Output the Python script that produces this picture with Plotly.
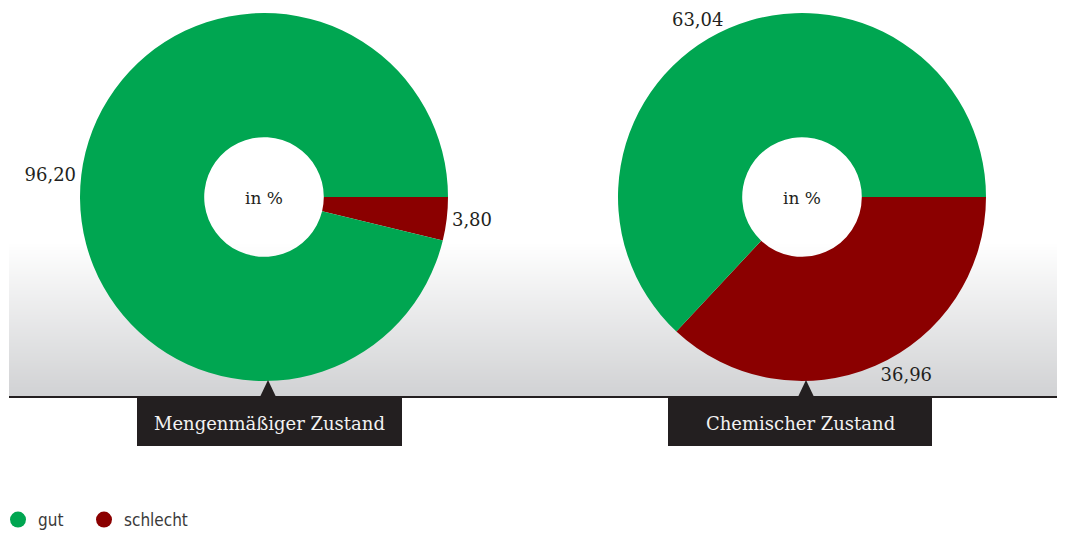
import numpy as np
import plotly.graph_objects as go

# data
categories = ["schlecht", "gut"]
colors = ["#8b0000", "#00a651"]
menge_values = [3.80, 96.20]
chemie_values = [36.96, 63.04]
chart_titles = ["Mengenmäßiger Zustand", "Chemischer Zustand"]
legend_names = ["gut", "schlecht"]
legend_colors = ["#00a651", "#8b0000"]

# page body adds an 8px margin, so the figure is drawn 8px smaller
OFF = 8
W, H = 1065 - OFF, 534 - OFF
SERIF = "'DejaVu Serif', 'Liberation Serif', serif"
NARROW = "'Liberation Sans Narrow', 'DejaVu Sans Condensed', Roboto, sans-serif"


def px_x(v):
    return min(max((v - OFF) / W, 0), 1)


def px_y(v):
    return min(max(1 - (v - OFF) / H, 0), 1)


fig = go.Figure()

# grey gradient band behind the lower half of the pies
grad = np.linspace(0, 1, 60).reshape(-1, 1)
fig.add_trace(go.Heatmap(z=grad, colorscale=[[0, "#d1d2d4"], [1, "#ffffff"]],
                         showscale=False, hoverinfo="skip", zsmooth="best"))

pie_centers = [264, 802]
for cx, vals, name in zip(pie_centers, [menge_values, chemie_values], chart_titles):
    r = 184
    cy = 197
    hw = 255
    fig.add_trace(go.Pie(
        labels=categories, values=vals, sort=False, direction="clockwise",
        rotation=90, hole=0.325,
        marker=dict(colors=colors, line=dict(width=0)),
        textposition="outside", texttemplate="%{value:.2f}",
        textfont=dict(family=SERIF, size=18, color="#231f20"),
        title=dict(text="in %", position="middle center",
                   font=dict(family=SERIF, size=17, color="#231f20")),
        domain=dict(x=[px_x(cx - hw), px_x(cx + hw)], y=[px_y(cy + r), px_y(cy - r)]),
        showlegend=False, hoverinfo="label+value", name=name,
    ))

# legend entries with round markers, one small legend each
for i, (cat, col) in enumerate(zip(legend_names, legend_colors)):
    fig.add_trace(go.Scatter(x=[None], y=[None], mode="markers", name=cat,
                             legend="legend" if i == 0 else "legend2",
                             marker=dict(color=col, size=16, symbol="circle")))

shapes = [dict(type="line", xref="paper", yref="paper",
               x0=px_x(9), x1=1, y0=px_y(397), y1=px_y(397),
               line=dict(color="#231f20", width=2))]
annotations = []
for cx, (bx0, bx1), name in zip(pie_centers, [(137, 402), (668, 932)], chart_titles):
    tip = cx + 4
    shapes.append(dict(type="rect", xref="paper", yref="paper",
                       x0=px_x(bx0), x1=px_x(bx1), y0=px_y(446), y1=px_y(398),
                       fillcolor="#231f20", line=dict(width=0)))
    shapes.append(dict(type="path", xref="paper", yref="paper",
                       path=f"M {px_x(tip - 9)} {px_y(399)} L {px_x(tip)} {px_y(380)} L {px_x(tip + 9)} {px_y(399)} Z",
                       fillcolor="#231f20", line=dict(width=0)))
    annotations.append(dict(text=name, xref="paper", yref="paper",
                            x=px_x((bx0 + bx1) / 2), y=px_y(423), showarrow=False,
                            xanchor="center", yanchor="middle",
                            font=dict(family=SERIF, size=18, color="#f2f2f2")))

leg = dict(orientation="h", y=px_y(520), yanchor="middle", xanchor="left",
           font=dict(family=NARROW, size=17, color="#3a3a3a"),
           itemwidth=30, bgcolor="rgba(0,0,0,0)")

fig.update_layout(
    width=W, height=H, margin=dict(l=0, r=0, t=0, b=0, autoexpand=False),
    paper_bgcolor="white", plot_bgcolor="white",
    separators=",.",
    xaxis=dict(domain=[px_x(9), 1], visible=False, fixedrange=True),
    yaxis=dict(domain=[px_y(396), px_y(240)], visible=False, fixedrange=True),
    shapes=shapes, annotations=annotations,
    legend=dict(leg, x=-10 / W),
    legend2=dict(leg, x=76 / W),
)

fig.write_html("out.html")
